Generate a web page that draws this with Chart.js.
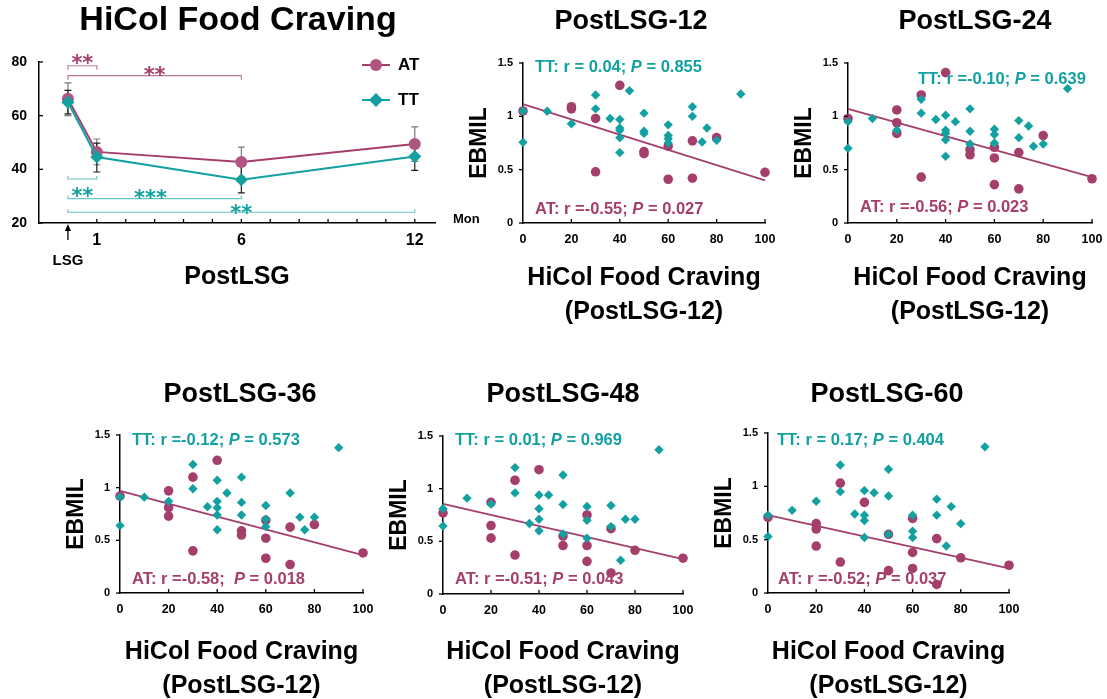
<!DOCTYPE html>
<html><head><meta charset="utf-8">
<script src="https://cdn.jsdelivr.net/npm/chart.js@4.4.1/dist/chart.umd.min.js"></script>
<style>
html,body{margin:0;padding:0;background:#fff;overflow:hidden;width:1107px;height:699px;}
canvas{position:absolute;}
</style>
</head><body>
<script>
// ---------------- DATA ----------------
// Panel 1: HiCol Food Craving over time
const months = [0, 1, 6, 12];
const tickMonths = [1, 2, 3, 4, 5, 6, 7, 8, 9, 10, 11, 12];
const labeledMonths = [1, 6, 12];
const cravingAT = [66.3, 46.5, 42.7, 49.4];
const cravingATlow = [60.0, 41.7, 37.1, 43.0];
const cravingAThigh = [72.2, 51.3, 48.3, 55.8];
const cravingTT = [65.0, 44.6, 36.1, 44.8];
const cravingTTlow = [60.7, 39.0, 31.2, 39.6];
const cravingTThigh = [69.4, 49.8, 41.1, 50.0];
const sigGroup = ['AT', 'AT', 'TT', 'TT', 'TT'];
const sigFrom = [0, 0, 0, 0, 0];
const sigTo = [1, 6, 1, 6, 12];
const sigStars = ['**', '**', '**', '***', '**'];

// Scatter panels
const panelTitles = ['PostLSG-12', 'PostLSG-24', 'PostLSG-36', 'PostLSG-48', 'PostLSG-60'];
const ebmilTickLabels = ['0', '0.5', '1', '1.5'];
const ttR = ['0.04', '-0.10', '-0.12', '0.01', '0.17'];
const ttP = ['0.855', '0.639', '0.573', '0.969', '0.404'];
const atR = ['-0.55', '-0.56', '-0.58', '-0.51', '-0.52'];
const atP = ['0.027', '0.023', '0.018', '0.043', '0.037'];

const at12X = [0, 20, 20, 30, 30, 40, 50, 50, 60, 60, 70, 70, 80, 100];
const at12Y = [1.05, 1.09, 1.07, 0.98, 0.48, 1.29, 0.67, 0.65, 0.72, 0.41, 0.77, 0.42, 0.80, 0.475];
const tt12X = [0, 0, 10, 20, 30, 30, 36, 40, 40, 40, 40, 40, 44, 50, 50, 50, 60, 60, 60, 60, 70, 70, 74, 76, 80, 90];
const tt12Y = [1.05, 0.756, 1.047, 0.93, 1.20, 1.07, 0.98, 0.97, 0.89, 0.87, 0.80, 0.66, 1.24, 1.03, 0.86, 0.84, 0.92, 0.82, 0.79, 0.75, 1.09, 1.00, 0.76, 0.89, 0.775, 1.21];
const fit12X = [0, 100], fit12Y = [1.115, 0.40];

const at24X = [0, 20, 20, 20, 30, 30, 40, 50, 50, 60, 60, 60, 70, 70, 80, 100];
const at24Y = [0.98, 1.06, 0.94, 0.84, 1.20, 0.43, 1.41, 0.69, 0.64, 0.71, 0.61, 0.36, 0.66, 0.32, 0.82, 0.415];
const tt24X = [0, 0, 10, 20, 30, 30, 36, 40, 40, 40, 40, 40, 44, 50, 50, 50, 60, 60, 60, 70, 70, 74, 76, 80, 90];
const tt24Y = [0.95, 0.70, 0.98, 0.87, 1.16, 1.03, 0.97, 1.01, 0.87, 0.84, 0.78, 0.625, 0.95, 1.07, 0.86, 0.74, 0.88, 0.83, 0.75, 0.96, 0.80, 0.91, 0.72, 0.74, 1.26];
const fit24X = [0, 100], fit24Y = [1.07, 0.43];

const at36X = [0, 20, 20, 20, 30, 30, 40, 50, 50, 60, 60, 60, 70, 70, 80, 100];
const at36Y = [0.92, 0.97, 0.81, 0.73, 1.10, 0.40, 1.26, 0.59, 0.55, 0.69, 0.52, 0.33, 0.625, 0.27, 0.65, 0.38];
const tt36X = [0, 0, 10, 20, 30, 30, 36, 40, 40, 40, 40, 40, 44, 50, 50, 50, 60, 60, 60, 70, 74, 76, 80, 90];
const tt36Y = [0.91, 0.64, 0.91, 0.87, 1.22, 0.99, 0.82, 1.07, 0.87, 0.81, 0.74, 0.60, 0.95, 1.10, 0.86, 0.74, 0.83, 0.70, 0.63, 0.95, 0.72, 0.60, 0.72, 1.38];
const fit36X = [0, 100], fit36Y = [0.97, 0.36];

const at48X = [0, 20, 20, 20, 30, 30, 40, 50, 50, 60, 60, 60, 70, 70, 80, 100];
const at48Y = [0.77, 0.87, 0.65, 0.53, 1.08, 0.37, 1.18, 0.55, 0.46, 0.75, 0.46, 0.31, 0.62, 0.20, 0.415, 0.34];
const tt48X = [0, 0, 10, 20, 30, 30, 36, 40, 40, 40, 40, 44, 50, 50, 50, 60, 60, 60, 70, 70, 74, 76, 80, 90];
const tt48Y = [0.81, 0.645, 0.91, 0.855, 1.20, 0.96, 0.67, 0.94, 0.81, 0.71, 0.60, 0.94, 1.13, 0.85, 0.57, 0.83, 0.70, 0.53, 0.84, 0.64, 0.32, 0.71, 0.71, 1.37];
const fit48X = [0, 100], fit48Y = [0.855, 0.33];

const at60X = [0, 20, 20, 20, 30, 30, 40, 50, 50, 60, 60, 60, 70, 70, 80, 100];
const at60Y = [0.71, 0.65, 0.60, 0.44, 1.03, 0.29, 0.85, 0.55, 0.21, 0.70, 0.38, 0.23, 0.51, 0.08, 0.33, 0.26];
const tt60X = [0, 0, 10, 20, 30, 30, 36, 40, 40, 40, 40, 44, 50, 50, 50, 60, 60, 60, 70, 70, 74, 76, 80, 90];
const tt60Y = [0.73, 0.53, 0.775, 0.86, 1.20, 0.95, 0.74, 0.96, 0.73, 0.68, 0.52, 0.94, 1.16, 0.91, 0.55, 0.73, 0.58, 0.52, 0.88, 0.73, 0.44, 0.81, 0.65, 1.37];
const fit60X = [0, 100], fit60Y = [0.73, 0.23];

const xTitleLines = ['HiCol Food Craving', '(PostLSG-12)'];

// ---------------- STYLE ----------------
const FONT = '"Liberation Sans", Arial, Helvetica, sans-serif';
const AT_COLOR = '#a43f6c';
const TT_COLOR = '#13a0a0';
const AT_LIGHT = '#c07a98';
const TT_LIGHT = '#6cc6c6';
Chart.defaults.font.family = FONT;
Chart.defaults.color = '#000';

function makeCanvas(left, top, w, h) {
  const c = document.createElement('canvas');
  c.width = w; c.height = h;
  c.style.left = left + 'px'; c.style.top = top + 'px';
  c.style.width = w + 'px'; c.style.height = h + 'px';
  document.body.appendChild(c);
  return c;
}
function zip(xs, ys) { return xs.map((x, i) => ({x: x, y: ys[i]})); }
function drawRich(ctx, parts, x, y, size, color) {
  let cx = x;
  ctx.textBaseline = 'middle'; ctx.textAlign = 'left'; ctx.fillStyle = color;
  parts.forEach(p => {
    ctx.font = (p.i ? 'italic ' : '') + 'bold ' + size + 'px ' + FONT;
    ctx.fillText(p.t, cx, y);
    cx += ctx.measureText(p.t).width;
  });
}
function rText(r) { return r.charAt(0) === '-' ? 'r =' + r : 'r = ' + r; }

// ---------------- PANEL 1 ----------------
(function () {
  const L = 0, T = 0, W = 480, H = 300;
  const c = makeCanvas(L, T, W, H);
  const errPlugin = {
    id: 'err',
    beforeDatasetsDraw(chart) {
      const ctx = chart.ctx, xs = chart.scales.x, ys = chart.scales.y;
      ctx.save();
      const sets = [[cravingATlow, cravingAThigh, '#7a7a7a'], [cravingTTlow, cravingTThigh, '#1e1e1e']];
      sets.forEach(s => {
        ctx.strokeStyle = s[2]; ctx.lineWidth = 1.2;
        months.forEach((m, i) => {
          const px = xs.getPixelForValue(m);
          const y1 = ys.getPixelForValue(s[0][i]), y2 = ys.getPixelForValue(s[1][i]);
          ctx.beginPath();
          ctx.moveTo(px, y1); ctx.lineTo(px, y2);
          ctx.moveTo(px - 3.5, y1); ctx.lineTo(px + 3.5, y1);
          ctx.moveTo(px - 3.5, y2); ctx.lineTo(px + 3.5, y2);
          ctx.stroke();
        });
      });
      ctx.restore();
    }
  };
  const bracketLevel = [78.6, 74.9, 36.4, 29.1, 24.0];
  const bracketEnd = [4, 4, -3, -3, -3];
  const starMonth = [0.5, 3.0, 0.5, 2.86, 6.0];
  const starLevel = [82.0, 77.3, 32.3, 31.7, 26.1];
  const decor = {
    id: 'decor1',
    afterDraw(chart) {
      const ctx = chart.ctx, xs = chart.scales.x, ys = chart.scales.y;
      ctx.save();
      ctx.strokeStyle = '#000'; ctx.lineWidth = 1.3;
      xs.ticks.forEach(t => {
        const px = xs.getPixelForValue(t.value);
        ctx.beginPath(); ctx.moveTo(px, ys.bottom); ctx.lineTo(px, ys.bottom - 4); ctx.stroke();
      });
      ys.ticks.forEach(t => {
        const py = ys.getPixelForValue(t.value);
        ctx.beginPath(); ctx.moveTo(xs.left, py); ctx.lineTo(xs.left + 4, py); ctx.stroke();
      });
      // title
      ctx.fillStyle = '#000'; ctx.textAlign = 'center'; ctx.textBaseline = 'middle';
      ctx.font = 'bold 34px ' + FONT;
      ctx.fillText('HiCol Food Craving', 238 - L, 21 - T);
      // Mon
      ctx.font = 'bold 13px ' + FONT; ctx.textAlign = 'left';
      ctx.fillText('Mon', 453 - L, 219 - T);
      // LSG arrow
      const ax = xs.getPixelForValue(0);
      ctx.beginPath(); ctx.moveTo(ax, ys.bottom + 17); ctx.lineTo(ax, ys.bottom + 4); ctx.stroke();
      ctx.beginPath(); ctx.moveTo(ax, ys.bottom + 1); ctx.lineTo(ax - 3, ys.bottom + 8); ctx.lineTo(ax + 3, ys.bottom + 8); ctx.closePath(); ctx.fill();
      ctx.font = 'bold 15px ' + FONT; ctx.textAlign = 'center';
      ctx.fillText('LSG', ax, 261 - T);
      // significance brackets
      sigGroup.forEach((g, i) => {
        const x1 = xs.getPixelForValue(sigFrom[i]), x2 = xs.getPixelForValue(sigTo[i]);
        const y = ys.getPixelForValue(bracketLevel[i]);
        ctx.strokeStyle = g === 'AT' ? AT_LIGHT : TT_LIGHT; ctx.lineWidth = 1.2;
        ctx.beginPath();
        ctx.moveTo(x1, y + bracketEnd[i]); ctx.lineTo(x1, y); ctx.lineTo(x2, y); ctx.lineTo(x2, y + bracketEnd[i]);
        ctx.stroke();
        const sx = xs.getPixelForValue(starMonth[i]), sy = ys.getPixelForValue(starLevel[i]);
        ctx.fillStyle = g === 'AT' ? AT_COLOR : TT_COLOR;
        ctx.font = 'bold 21px "DejaVu Sans", sans-serif';
        ctx.textAlign = 'center'; ctx.textBaseline = 'alphabetic';
        ctx.fillText(sigStars[i], sx, sy + 13);
      });
      // legend
      chart.data.datasets.slice().reverse().forEach((ds, k) => {
        const ly = (k === 0 ? 65 : 100) - T;
        ctx.strokeStyle = ds.borderColor; ctx.lineWidth = 2;
        ctx.beginPath(); ctx.moveTo(362 - L, ly); ctx.lineTo(390 - L, ly); ctx.stroke();
        ctx.fillStyle = ds.pointBackgroundColor;
        const mx = 376 - L;
        ctx.beginPath();
        if (ds.pointStyle === 'circle') ctx.arc(mx, ly, 6, 0, Math.PI * 2);
        else { ctx.moveTo(mx, ly - 7); ctx.lineTo(mx + 7, ly); ctx.lineTo(mx, ly + 7); ctx.lineTo(mx - 7, ly); ctx.closePath(); }
        ctx.fill();
        ctx.fillStyle = '#000'; ctx.font = 'bold 17px ' + FONT; ctx.textAlign = 'left'; ctx.textBaseline = 'middle';
        ctx.fillText(ds.label, 398 - L, ly);
      });
      ctx.restore();
    }
  };
  new Chart(c, {
    type: 'line',
    data: {
      datasets: [
        {label: 'TT', data: zip(months, cravingTT), borderColor: TT_COLOR, backgroundColor: TT_COLOR,
         pointBackgroundColor: TT_COLOR, pointBorderColor: TT_COLOR, pointStyle: 'rectRot', pointRadius: 6.5,
         pointBorderWidth: 0, borderWidth: 2, order: 0, clip: false},
        {label: 'AT', data: zip(months, cravingAT), borderColor: AT_COLOR, backgroundColor: '#b05580',
         pointBackgroundColor: '#ae5580', pointBorderColor: '#ae5580', pointStyle: 'circle', pointRadius: 6,
         pointBorderWidth: 0, borderWidth: 2, order: 1, clip: false}
      ]
    },
    options: {
      responsive: false, animation: false, devicePixelRatio: 1,
      layout: {padding: {left: 0, top: 62, right: 45, bottom: 8}},
      plugins: {legend: {display: false}, tooltip: {enabled: false}},
      scales: {
        x: {
          type: 'linear', min: -1, max: 12.7,
          afterBuildTicks: s => { s.ticks = tickMonths.map(v => ({value: v})); },
          afterFit: s => { s.height = 69; },
          grid: {display: false},
          border: {display: true, color: '#000', width: 1.5},
          ticks: {autoSkip: false, maxRotation: 0, padding: 0, font: {size: 16, weight: 'bold'},
                  callback: v => labeledMonths.includes(v) ? String(v) : ''},
          title: {display: true, text: 'PostLSG', font: {size: 25, weight: 'bold', lineHeight: 1.2}, padding: {top: 0, bottom: 0}}
        },
        y: {
          min: 20, max: 80,
          afterFit: s => { s.width = 39; },
          grid: {display: false},
          border: {display: true, color: '#000', width: 1.5},
          ticks: {stepSize: 20, padding: 4, font: {size: 14, weight: 'bold'}}
        }
      }
    },
    plugins: [errPlugin, decor]
  });
})();

// ---------------- SCATTER PANELS ----------------
const scatterSets = [
  [at12X, at12Y, tt12X, tt12Y, fit12X, fit12Y],
  [at24X, at24Y, tt24X, tt24Y, fit24X, fit24Y],
  [at36X, at36Y, tt36X, tt36Y, fit36X, fit36Y],
  [at48X, at48Y, tt48X, tt48Y, fit48X, fit48Y],
  [at60X, at60Y, tt60X, tt60Y, fit60X, fit60Y]
];
const geom = [
  {ax0: 523, ax1: 765, ay0: 63, ay1: 223, top: 0, t2: 312, title: [631, 22], tt: [535, 67], at: [535, 209]},
  {ax0: 848, ax1: 1092, ay0: 63, ay1: 223, top: 0, t2: 312, title: [975, 22], tt: [918, 79], at: [860, 207]},
  {ax0: 120, ax1: 363, ay0: 435, ay1: 593, top: 370, t2: 686, title: [240, 395], tt: [132, 440], at: [132, 579]},
  {ax0: 443, ax1: 683, ay0: 436, ay1: 594, top: 370, t2: 686, title: [563, 395], tt: [455, 440], at: [455, 579]},
  {ax0: 768, ax1: 1009, ay0: 433, ay1: 593, top: 370, t2: 686, title: [887, 395], tt: [777, 440], at: [778, 579]}
];

scatterSets.forEach((s, idx) => {
  const g = geom[idx];
  const YW = 63, padR = 12, LH = 34;
  const cl = g.ax0 - YW, ct = g.top;
  const cw = g.ax1 - cl + padR;
  const chartTop = g.ay0 - ct, chartBottom = g.ay1 - ct;
  const xH = (g.t2 - ct) + LH / 2 - chartBottom;
  const ch = chartBottom + xH + 2;
  const c = makeCanvas(cl, ct, cw, ch);
  const decor = {
    id: 'decor' + idx,
    afterDraw(chart) {
      const ctx = chart.ctx, xs = chart.scales.x, ys = chart.scales.y;
      ctx.save();
      ctx.strokeStyle = '#000'; ctx.lineWidth = 1.3;
      xs.ticks.forEach(t => {
        if (t.value === 0) return;
        const px = xs.getPixelForValue(t.value);
        ctx.beginPath(); ctx.moveTo(px, ys.bottom); ctx.lineTo(px, ys.bottom - 4); ctx.stroke();
      });
      ys.ticks.forEach(t => {
        const py = ys.getPixelForValue(t.value);
        ctx.beginPath(); ctx.moveTo(xs.left - 4, py); ctx.lineTo(xs.left, py); ctx.stroke();
      });
      ctx.fillStyle = '#000'; ctx.textAlign = 'center'; ctx.textBaseline = 'middle';
      ctx.font = 'bold 27px ' + FONT;
      ctx.fillText(panelTitles[idx], g.title[0] - cl, g.title[1] - ct);
      drawRich(ctx, [{t: 'TT: ' + rText(ttR[idx]) + '; '}, {t: 'P', i: true}, {t: ' = ' + ttP[idx]}],
               g.tt[0] - cl, g.tt[1] - ct, 16.5, TT_COLOR);
      drawRich(ctx, [{t: 'AT: ' + rText(atR[idx]) + (idx === 2 ? ';  ' : '; ')}, {t: 'P', i: true}, {t: ' = ' + atP[idx]}],
               g.at[0] - cl, g.at[1] - ct, 16.5, AT_COLOR);
      ctx.restore();
    }
  };
  new Chart(c, {
    type: 'scatter',
    data: {
      datasets: [
        {label: 'TT', data: zip(s[2], s[3]), pointStyle: 'rectRot', pointRadius: 4.7, pointBorderWidth: 0,
         backgroundColor: TT_COLOR, borderColor: TT_COLOR, order: 0, clip: false},
        {label: 'AT', data: zip(s[0], s[1]), pointStyle: 'circle', pointRadius: 4.8, pointBorderWidth: 0,
         backgroundColor: AT_COLOR, borderColor: AT_COLOR, order: 1, clip: false},
        {label: 'AT fit', type: 'line', data: zip(s[4], s[5]), borderColor: AT_COLOR, borderWidth: 1.8,
         pointRadius: 0, order: 2, clip: false}
      ]
    },
    options: {
      responsive: false, animation: false, devicePixelRatio: 1,
      layout: {padding: {left: 0, top: chartTop, right: padR, bottom: 2}},
      plugins: {legend: {display: false}, tooltip: {enabled: false}},
      scales: {
        x: {
          type: 'linear', min: 0, max: 100,
          afterFit: sc => { sc.height = xH; },
          grid: {display: false},
          border: {display: true, color: '#000', width: 1.5},
          ticks: {stepSize: 20, padding: 1, maxRotation: 0, font: {size: 12.5, weight: 'bold'}},
          title: {display: true, text: xTitleLines, font: {size: 25, weight: 'bold', lineHeight: 1.36}, padding: {top: 0, bottom: 0}}
        },
        y: {
          min: 0, max: 1.5,
          afterFit: sc => { sc.width = YW; },
          grid: {display: false},
          border: {display: true, color: '#000', width: 1.5},
          ticks: {stepSize: 0.5, padding: 2, font: {size: 11, weight: 'bold'},
                  callback: (v, i) => ebmilTickLabels[i]},
          title: {display: true, text: 'EBMIL', font: {size: 23, weight: 'bold', lineHeight: 1.2}, padding: {top: 6, bottom: 0}}
        }
      }
    },
    plugins: [decor]
  });
});
</script>
</body></html>
